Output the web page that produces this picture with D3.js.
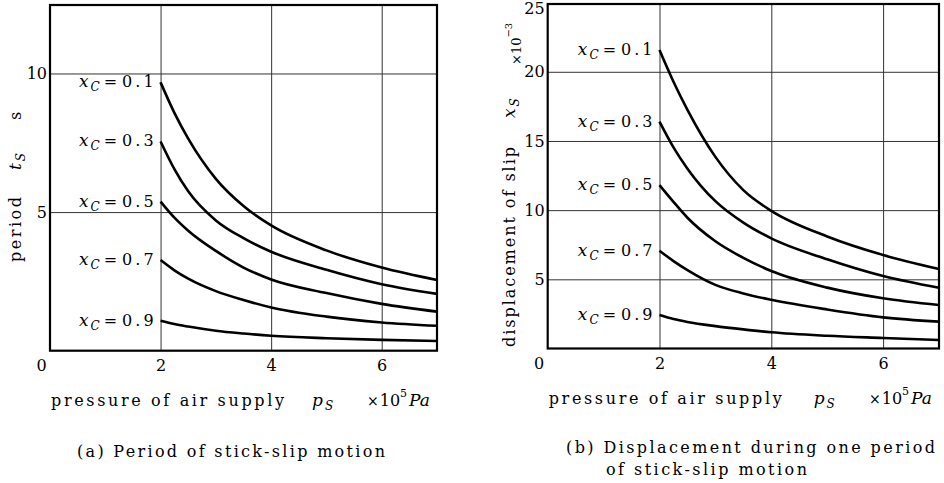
<!DOCTYPE html>
<html>
<head>
<meta charset="utf-8">
<script src="https://cdn.jsdelivr.net/npm/d3@7"></script>
<style>
body{margin:0;background:#fff}
text{font-family:"DejaVu Serif",serif;fill:#000}
</style>
</head>
<body>
<svg id="chart" width="944" height="483"></svg>
<script>
// pressure of air supply, x10^5 Pa
var pressure = [2, 2.25, 2.5, 3, 3.5, 4, 5, 6, 7];
var xcLevels = ["0.1", "0.3", "0.5", "0.7", "0.9"];
var xTicks = [0, 2, 4, 6];

// (a) period of stick-slip motion t_s [s]
var period01 = [9.68, 8.58, 7.65, 6.20, 5.22, 4.52, 3.62, 3.00, 2.55];
var period03 = [7.55, 6.55, 5.75, 4.70, 4.06, 3.57, 2.92, 2.40, 2.05];
var period05 = [5.38, 4.80, 4.33, 3.60, 3.00, 2.57, 2.08, 1.69, 1.41];
var period07 = [3.27, 2.90, 2.60, 2.15, 1.83, 1.56, 1.23, 1.02, 0.90];
var period09 = [1.08, 0.96, 0.87, 0.72, 0.62, 0.54, 0.45, 0.39, 0.35];
var periodTicks = [5, 10];

// (b) displacement of slip x_s [x10^-3]
var slip01 = [21.57, 19.28, 17.25, 13.85, 11.45, 9.95, 8.10, 6.76, 5.74];
var slip03 = [16.40, 14.54, 13.00, 10.65, 9.10, 7.96, 6.45, 5.24, 4.39];
var slip05 = [11.81, 10.60, 9.45, 7.75, 6.55, 5.60, 4.40, 3.63, 3.14];
var slip07 = [7.07, 6.32, 5.67, 4.60, 3.98, 3.52, 2.82, 2.25, 1.94];
var slip09 = [2.42, 2.13, 1.92, 1.62, 1.38, 1.17, 0.92, 0.76, 0.61];
var slipTicks = [5, 10, 15, 20, 25];

var svg = d3.select("#chart");

function drawPanel(o){
	var x = d3.scaleLinear().domain([0, 7]).range([o.left, o.right]);
	var y = d3.scaleLinear().domain([0, o.yMax]).range([o.bottom, o.top]);
	var g = svg.append("g");

	//竖直网格
	g.append("g")
		.attr("transform", "translate(0," + o.bottom + ")")
		.call(d3.axisBottom(x).tickValues([2, 4, 6]).tickSize(-(o.bottom - o.top)).tickFormat(""))
		.call(function(a){ a.select(".domain").remove(); a.selectAll("line").attr("stroke", "#333").attr("stroke-width", 1); });
	//水平网格
	g.append("g")
		.attr("transform", "translate(" + o.left + ",0)")
		.call(d3.axisLeft(y).tickValues(o.yTicks.filter(function(d){ return d < o.yMax; })).tickSize(-(o.right - o.left)).tickFormat(""))
		.call(function(a){ a.select(".domain").remove(); a.selectAll("line").attr("stroke", "#333").attr("stroke-width", 1); });

	//边框
	g.append("rect")
		.attr("x", o.left).attr("y", o.top)
		.attr("width", o.right - o.left).attr("height", o.bottom - o.top)
		.attr("fill", "none").attr("stroke", "#000").attr("stroke-width", 2.2);

	//刻度文字
	var xa = g.append("g")
		.attr("transform", "translate(0," + o.bottom + ")")
		.call(d3.axisBottom(x).tickValues(xTicks).tickSize(0).tickPadding(9).tickFormat(d3.format("d")));
	xa.select(".domain").remove();
	xa.selectAll("text").attr("font-size", 16).attr("font-family", "DejaVu Serif").attr("fill", "#000")
		.attr("dx", function(d){ return d === 0 ? -9 : 0; });

	var ya = g.append("g")
		.attr("transform", "translate(" + o.left + ",0)")
		.call(d3.axisLeft(y).tickValues(o.yTicks).tickSize(0).tickPadding(3).tickFormat(d3.format("d")));
	ya.select(".domain").remove();
	ya.selectAll("text").attr("font-size", 16).attr("font-family", "DejaVu Serif").attr("fill", "#000")
		.attr("dy", function(d){ return d >= o.yMax ? "0.7em" : "0.32em"; });

	//曲线
	var line = d3.line()
		.x(function(d, i){ return x(pressure[i]); })
		.y(function(d){ return y(d); })
		.curve(d3.curveMonotoneX);
	g.selectAll("path.curve").data(o.series).join("path")
		.attr("class", "curve")
		.attr("d", line)
		.attr("fill", "none").attr("stroke", "#000").attr("stroke-width", 2.6);

	//曲线标注 x_C = 0.1 ...
	var lab = g.selectAll("text.xc").data(o.series).join("text")
		.attr("class", "xc")
		.attr("text-anchor", "end")
		.attr("x", x(2) - 4)
		.attr("y", function(d){ return y(d[0]) + 5; })
		.attr("font-size", 16);
	lab.append("tspan").attr("font-style", "italic").attr("font-size", 17).text("x");
	lab.append("tspan").attr("font-style", "italic").attr("font-size", 12).attr("dx", 2).attr("dy", 4).text("C");
	lab.append("tspan").attr("dy", -4).attr("dx", 4).text("=");
	lab.append("tspan").attr("dx", 5).attr("letter-spacing", 3).text(function(d, i){ return xcLevels[i]; });

	//横轴标题
	var xt = g.append("text").attr("y", o.bottom + 55).attr("font-size", 16);
	xt.append("tspan").attr("x", o.left + 1).attr("textLength", 233).attr("lengthAdjust", "spacing").text("pressure of air supply");
	xt.append("tspan").attr("x", o.left + o.psOffset).attr("font-style", "italic").attr("font-size", 17).text("p");
	xt.append("tspan").attr("font-style", "italic").attr("font-size", 12).attr("dx", 2).attr("dy", 4).text("S");
	xt.append("tspan").attr("x", o.right - 70).attr("dy", -4).attr("font-size", 14).text("×");
	xt.append("tspan").attr("dx", 1).text("10");
	xt.append("tspan").attr("font-size", 11).attr("dy", -9).text("5");
	xt.append("tspan").attr("font-style", "italic").attr("font-size", 17).attr("dy", 9).attr("dx", 2).text("Pa");

	return g;
}

drawPanel({
	left: 50, right: 437, top: 5, bottom: 350.7, yMax: 12.47,
	yTicks: periodTicks, series: [period01, period03, period05, period07, period09],
	psOffset: 262
});
drawPanel({
	left: 547.7, right: 939, top: 4, bottom: 348.5, yMax: 24.9,
	yTicks: slipTicks, series: [slip01, slip03, slip05, slip07, slip09],
	psOffset: 266
});

//纵轴标题 (a)
var ta = svg.append("text").attr("transform", "translate(21,262) rotate(-90)").attr("font-size", 16);
ta.append("tspan").attr("x", 0).attr("textLength", 65).attr("lengthAdjust", "spacing").text("period");
ta.append("tspan").attr("x", 92).attr("font-style", "italic").attr("font-size", 17).text("t");
ta.append("tspan").attr("font-style", "italic").attr("font-size", 12).attr("dx", 2).attr("dy", 4).text("S");
ta.append("tspan").attr("x", 142).attr("dy", -4).text("s");

//纵轴标题 (b)
var tb = svg.append("text").attr("transform", "translate(515,347) rotate(-90)").attr("font-size", 16);
tb.append("tspan").attr("x", 0).attr("textLength", 200).attr("lengthAdjust", "spacing").text("displacement of slip");
tb.append("tspan").attr("x", 229).attr("font-style", "italic").attr("font-size", 17).text("x");
tb.append("tspan").attr("font-style", "italic").attr("font-size", 12).attr("dx", 2).attr("dy", 4).text("S");
tb.append("tspan").attr("x", 282).attr("dy", 2).attr("font-size", 13).text("×10");
tb.append("tspan").attr("font-size", 10).attr("dy", -9).text("−3");

//图题
svg.append("text").attr("x", 77).attr("y", 457).attr("font-size", 16)
	.attr("textLength", 308).attr("lengthAdjust", "spacing").text("(a) Period of stick-slip motion");
svg.append("text").attr("x", 566).attr("y", 453).attr("font-size", 16)
	.attr("textLength", 369).attr("lengthAdjust", "spacing").text("(b) Displacement during one period");
svg.append("text").attr("x", 606).attr("y", 475).attr("font-size", 16)
	.attr("textLength", 201).attr("lengthAdjust", "spacing").text("of stick-slip motion");
</script>
</body>
</html>
